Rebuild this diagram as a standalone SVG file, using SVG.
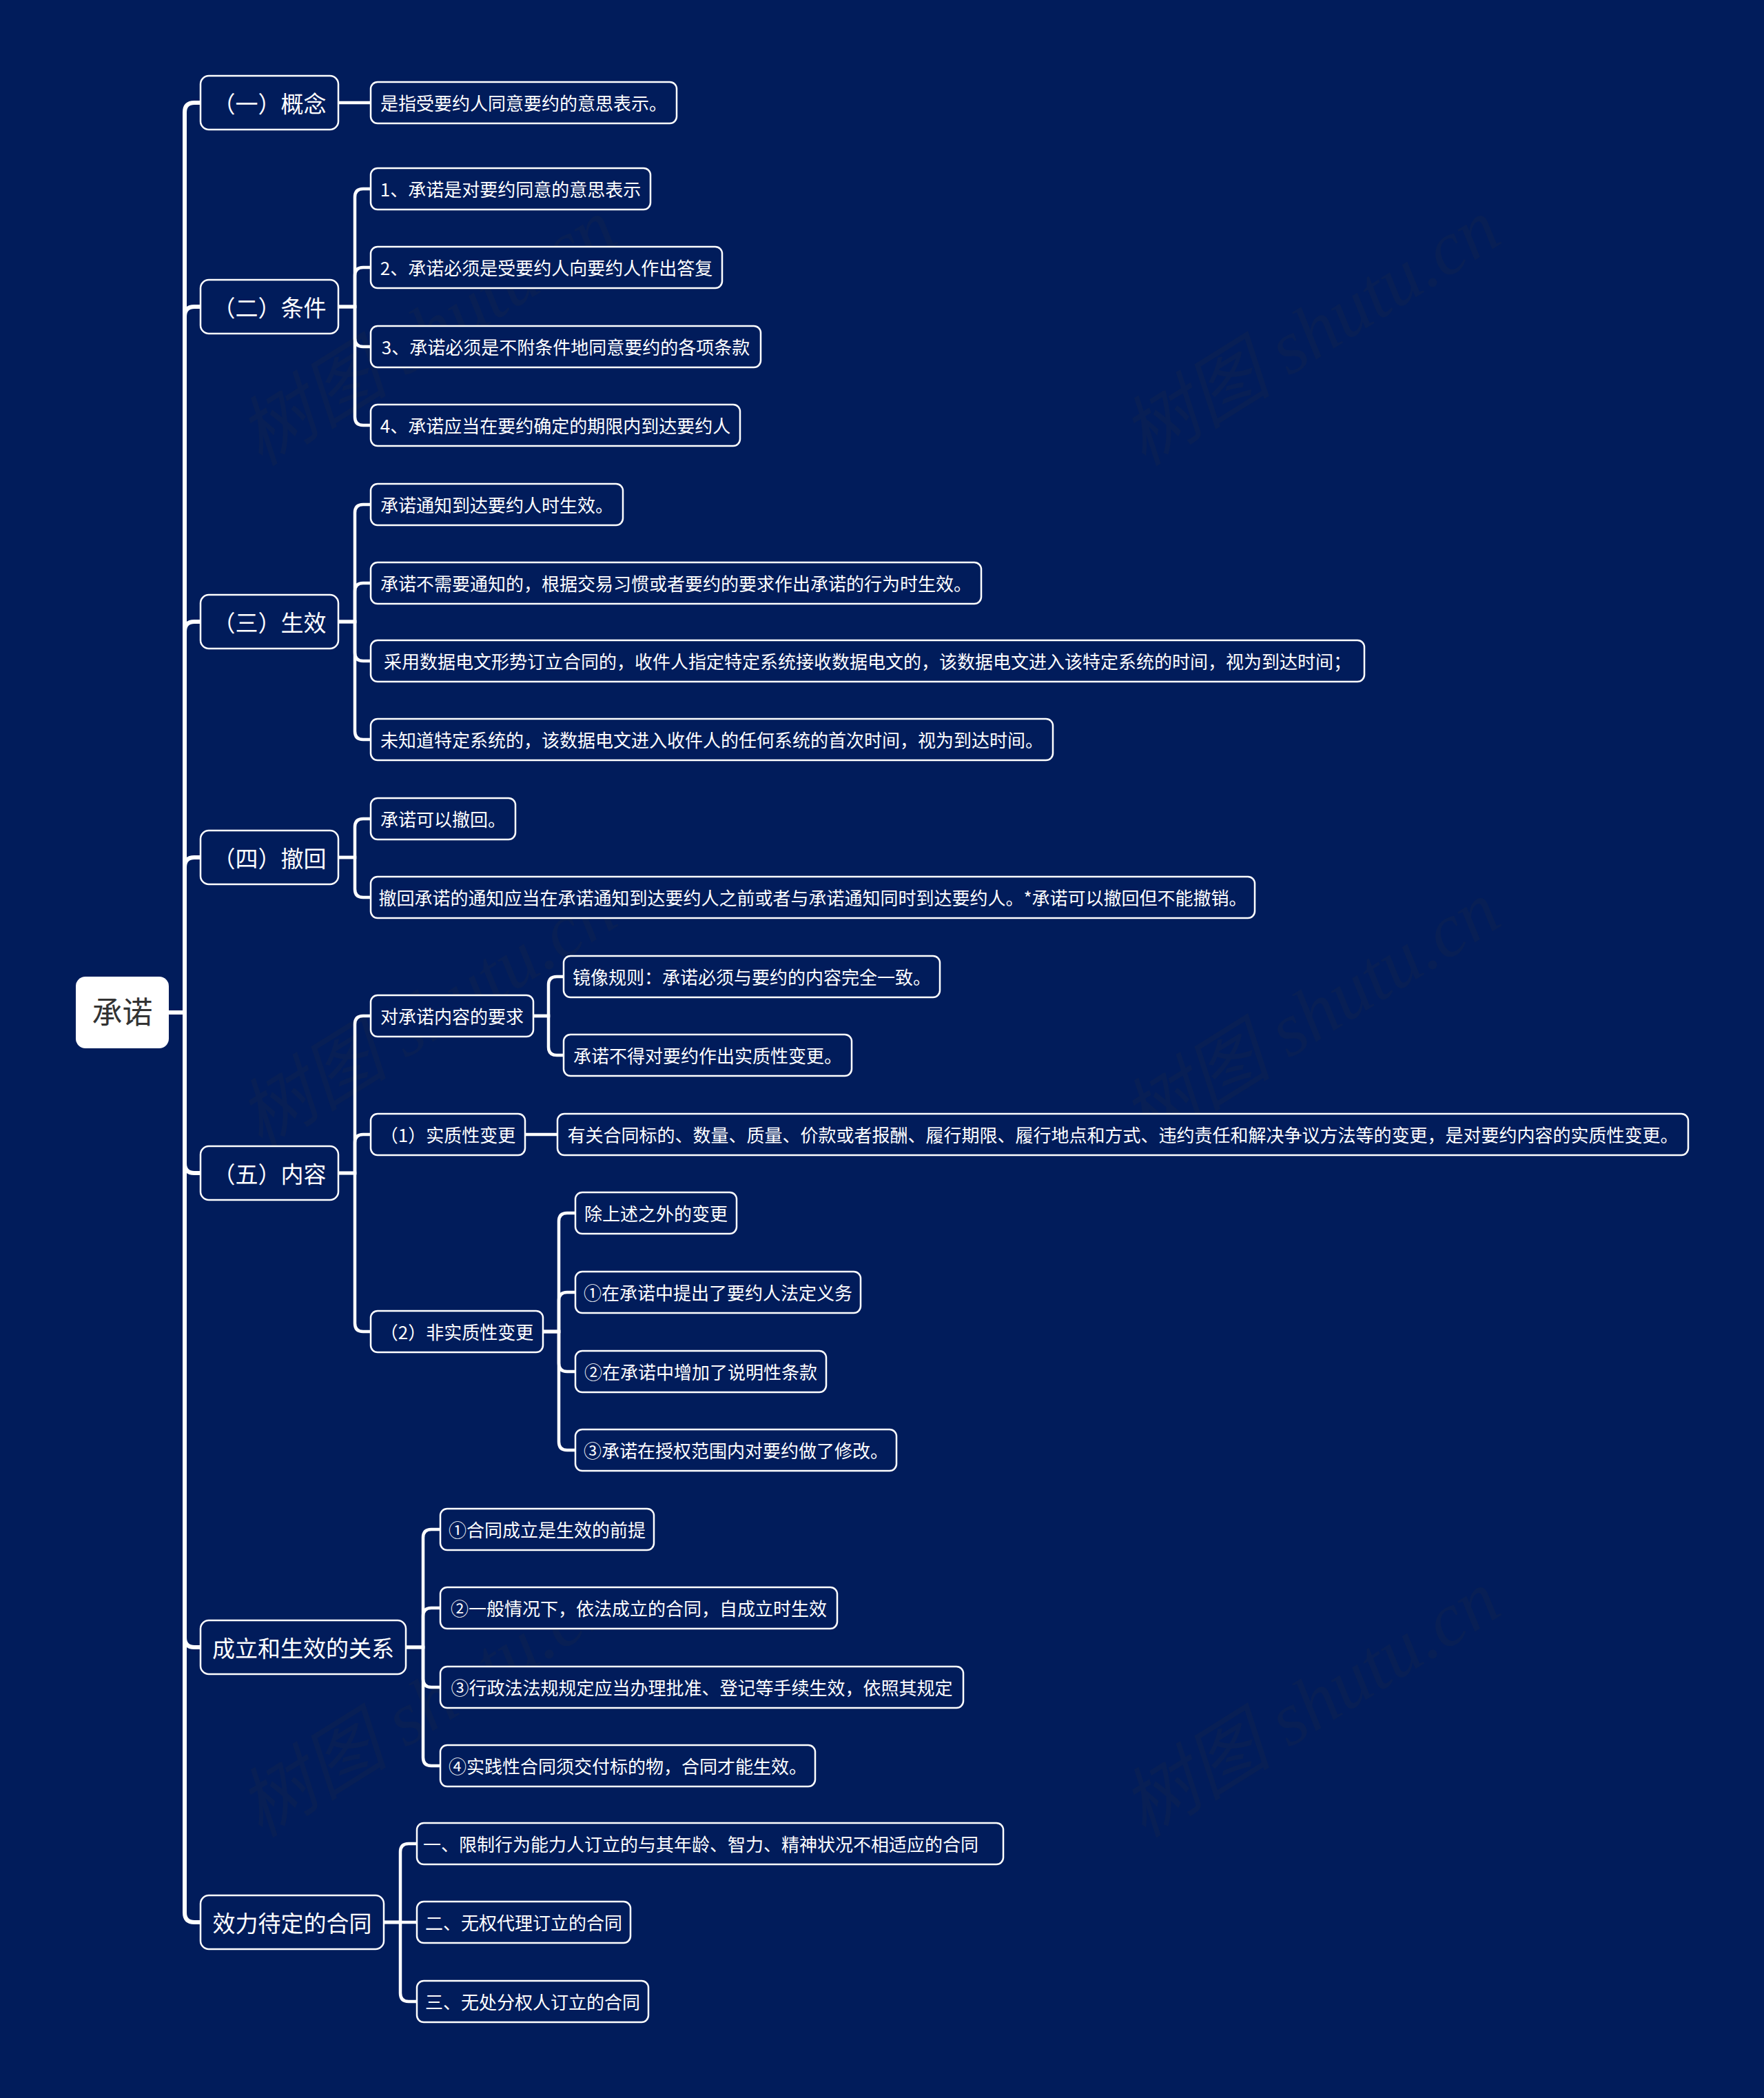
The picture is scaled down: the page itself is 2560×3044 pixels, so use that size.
<svg xmlns="http://www.w3.org/2000/svg" width="2560" height="3044" viewBox="0 0 2560 3044">
<style>
.bg{fill:#011c5b}
.n1 rect{fill:#011c5b;stroke:#ffffff;stroke-width:2.5}
.n2 rect{fill:#011c5b;stroke:#ffffff;stroke-width:2.5}
.n1 text{font-family:"Noto Sans CJK SC","Noto Sans",sans-serif;font-size:33px;fill:#ffffff;text-anchor:middle;transform:translate(0px,2px)}
.n2 text{font-family:"Noto Sans CJK SC","Noto Sans",sans-serif;font-size:26px;fill:#ffffff;text-anchor:middle;transform:translate(0px,2px)}
.root rect{fill:#ffffff}
.root text{font-family:"Noto Sans CJK SC","Noto Sans",sans-serif;font-size:44px;fill:#333333;text-anchor:middle}
.c0{fill:none;stroke:#ffffff;stroke-width:6}
.c1{fill:none;stroke:#ffffff;stroke-width:4.5}
.wm{font-family:"Liberation Serif","Noto Sans CJK SC",serif;font-size:110px;font-style:italic;fill:#333333;opacity:0.14}
</style>
<rect class="bg" x="0" y="0" width="2560" height="3044"/>
<g id="watermarks">
<text class="wm" transform="translate(640,514) rotate(-32)" text-anchor="middle">树图 shutu.cn</text>
<text class="wm" transform="translate(1922,514) rotate(-32)" text-anchor="middle">树图 shutu.cn</text>
<text class="wm" transform="translate(640,1504) rotate(-32)" text-anchor="middle">树图 shutu.cn</text>
<text class="wm" transform="translate(1922,1504) rotate(-32)" text-anchor="middle">树图 shutu.cn</text>
<text class="wm" transform="translate(640,2504) rotate(-32)" text-anchor="middle">树图 shutu.cn</text>
<text class="wm" transform="translate(1922,2504) rotate(-32)" text-anchor="middle">树图 shutu.cn</text>
</g>
<g id="connectors">
<path class="c0" d="M245 1469 H268 V163 Q268 149 282 149 H291"/>
<path class="c0" d="M245 1469 H268 V459 Q268 445 282 445 H291"/>
<path class="c0" d="M245 1469 H268 V916 Q268 902 282 902 H291"/>
<path class="c0" d="M245 1469 H268 V1258 Q268 1244 282 1244 H291"/>
<path class="c0" d="M245 1469 H268 V1688 Q268 1702 282 1702 H291"/>
<path class="c0" d="M245 1469 H268 V2376 Q268 2390 282 2390 H291"/>
<path class="c0" d="M245 1469 H268 V2775 Q268 2789 282 2789 H291"/>
<path class="c1" d="M491 149 H538"/>
<path class="c1" d="M491 445 H515 V286 Q515 274 527 274 H538"/>
<path class="c1" d="M491 445 H515 V400 Q515 388 527 388 H538"/>
<path class="c1" d="M491 445 H515 V491 Q515 503 527 503 H538"/>
<path class="c1" d="M491 445 H515 V605 Q515 617 527 617 H538"/>
<path class="c1" d="M491 902 H515 V744 Q515 732 527 732 H538"/>
<path class="c1" d="M491 902 H515 V858 Q515 846 527 846 H538"/>
<path class="c1" d="M491 902 H515 V947 Q515 959 527 959 H538"/>
<path class="c1" d="M491 902 H515 V1061 Q515 1073 527 1073 H538"/>
<path class="c1" d="M491 1244 H515 V1200 Q515 1188 527 1188 H538"/>
<path class="c1" d="M491 1244 H515 V1290 Q515 1302 527 1302 H538"/>
<path class="c1" d="M491 1702 H515 V1486 Q515 1474 527 1474 H538"/>
<path class="c1" d="M491 1702 H515 V1658 Q515 1646 527 1646 H538"/>
<path class="c1" d="M491 1702 H515 V1920 Q515 1932 527 1932 H538"/>
<path class="c1" d="M774 1474 H796 V1429 Q796 1417 808 1417 H818"/>
<path class="c1" d="M774 1474 H796 V1519 Q796 1531 808 1531 H818"/>
<path class="c1" d="M762 1646 H809"/>
<path class="c1" d="M788 1932 H811 V1772 Q811 1760 823 1760 H835"/>
<path class="c1" d="M788 1932 H811 V1887 Q811 1875 823 1875 H835"/>
<path class="c1" d="M788 1932 H811 V1978 Q811 1990 823 1990 H835"/>
<path class="c1" d="M788 1932 H811 V2092 Q811 2104 823 2104 H835"/>
<path class="c1" d="M589 2390 H614 V2231 Q614 2219 626 2219 H639"/>
<path class="c1" d="M589 2390 H614 V2345 Q614 2333 626 2333 H639"/>
<path class="c1" d="M589 2390 H614 V2436 Q614 2448 626 2448 H639"/>
<path class="c1" d="M589 2390 H614 V2550 Q614 2562 626 2562 H639"/>
<path class="c1" d="M557 2789 H581 V2687 Q581 2675 593 2675 H605"/>
<path class="c1" d="M557 2789 H605"/>
<path class="c1" d="M557 2789 H581 V2892 Q581 2904 593 2904 H605"/>
</g>
<g id="root" class="root"><rect x="110" y="1417" width="135" height="104" rx="14"/><text x="177.5" y="1485">承诺</text></g>
<g id="n-a" class="n1"><rect x="291" y="110" width="200" height="78" rx="12"/><text x="391" y="161">（一）概念</text></g>
<g id="n-b" class="n1"><rect x="291" y="406" width="200" height="78" rx="12"/><text x="391" y="457">（二）条件</text></g>
<g id="n-c" class="n1"><rect x="291" y="863" width="200" height="78" rx="12"/><text x="391" y="914">（三）生效</text></g>
<g id="n-d" class="n1"><rect x="291" y="1205" width="200" height="78" rx="12"/><text x="391" y="1256">（四）撤回</text></g>
<g id="n-e" class="n1"><rect x="291" y="1663" width="200" height="78" rx="12"/><text x="391" y="1714">（五）内容</text></g>
<g id="n-f" class="n1"><rect x="291" y="2351" width="298" height="78" rx="12"/><text x="440" y="2402">成立和生效的关系</text></g>
<g id="n-g" class="n1"><rect x="291" y="2750" width="266" height="78" rx="12"/><text x="424" y="2801">效力待定的合同</text></g>
<g id="n-a1" class="n2"><rect x="538" y="119" width="444" height="60" rx="10"/><text x="760" y="158">是指受要约人同意要约的意思表示。</text></g>
<g id="n-b1" class="n2"><rect x="538" y="244" width="406" height="60" rx="10"/><text x="741" y="283">1、承诺是对要约同意的意思表示</text></g>
<g id="n-b2" class="n2"><rect x="538" y="358" width="510" height="60" rx="10"/><text x="793" y="397">2、承诺必须是受要约人向要约人作出答复</text></g>
<g id="n-b3" class="n2"><rect x="538" y="473" width="566" height="60" rx="10"/><text x="821" y="512">3、承诺必须是不附条件地同意要约的各项条款</text></g>
<g id="n-b4" class="n2"><rect x="538" y="587" width="536" height="60" rx="10"/><text x="806" y="626">4、承诺应当在要约确定的期限内到达要约人</text></g>
<g id="n-c1" class="n2"><rect x="538" y="702" width="366" height="60" rx="10"/><text x="721" y="741">承诺通知到达要约人时生效。</text></g>
<g id="n-c2" class="n2"><rect x="538" y="816" width="886" height="60" rx="10"/><text x="981" y="855">承诺不需要通知的，根据交易习惯或者要约的要求作出承诺的行为时生效。</text></g>
<g id="n-c3" class="n2"><rect x="538" y="929" width="1442" height="60" rx="10"/><text x="1259" y="968">采用数据电文形势订立合同的，收件人指定特定系统接收数据电文的，该数据电文进入该特定系统的时间，视为到达时间；</text></g>
<g id="n-c4" class="n2"><rect x="538" y="1043" width="990" height="60" rx="10"/><text x="1033" y="1082">未知道特定系统的，该数据电文进入收件人的任何系统的首次时间，视为到达时间。</text></g>
<g id="n-d1" class="n2"><rect x="538" y="1158" width="210" height="60" rx="10"/><text x="643" y="1197">承诺可以撤回。</text></g>
<g id="n-d2" class="n2"><rect x="538" y="1272" width="1283" height="60" rx="10"/><text x="1179.5" y="1311">撤回承诺的通知应当在承诺通知到达要约人之前或者与承诺通知同时到达要约人。*承诺可以撤回但不能撤销。</text></g>
<g id="n-e1" class="n2"><rect x="538" y="1444" width="236" height="60" rx="10"/><text x="656" y="1483">对承诺内容的要求</text></g>
<g id="n-e1a" class="n2"><rect x="818" y="1387" width="546" height="60" rx="10"/><text x="1091" y="1426">镜像规则：承诺必须与要约的内容完全一致。</text></g>
<g id="n-e1b" class="n2"><rect x="818" y="1501" width="418" height="60" rx="10"/><text x="1027" y="1540">承诺不得对要约作出实质性变更。</text></g>
<g id="n-e2" class="n2"><rect x="538" y="1616" width="224" height="60" rx="10"/><text x="650" y="1655">（1）实质性变更</text></g>
<g id="n-e2a" class="n2"><rect x="809" y="1616" width="1641" height="60" rx="10"/><text x="1629.5" y="1655">有关合同标的、数量、质量、价款或者报酬、履行期限、履行地点和方式、违约责任和解决争议方法等的变更，是对要约内容的实质性变更。</text></g>
<g id="n-e3" class="n2"><rect x="538" y="1902" width="250" height="60" rx="10"/><text x="663" y="1941">（2）非实质性变更</text></g>
<g id="n-e3a" class="n2"><rect x="835" y="1730" width="234" height="60" rx="10"/><text x="952" y="1769">除上述之外的变更</text></g>
<g id="n-e3b" class="n2"><rect x="835" y="1845" width="414" height="60" rx="10"/><text x="1042" y="1884">①在承诺中提出了要约人法定义务</text></g>
<g id="n-e3c" class="n2"><rect x="835" y="1960" width="364" height="60" rx="10"/><text x="1017" y="1999">②在承诺中增加了说明性条款</text></g>
<g id="n-e3d" class="n2"><rect x="835" y="2074" width="466" height="60" rx="10"/><text x="1068" y="2113">③承诺在授权范围内对要约做了修改。</text></g>
<g id="n-f1" class="n2"><rect x="639" y="2189" width="310" height="60" rx="10"/><text x="794" y="2228">①合同成立是生效的前提</text></g>
<g id="n-f2" class="n2"><rect x="639" y="2303" width="576" height="60" rx="10"/><text x="927" y="2342">②一般情况下，依法成立的合同，自成立时生效</text></g>
<g id="n-f3" class="n2"><rect x="639" y="2418" width="759" height="60" rx="10"/><text x="1018.5" y="2457">③行政法法规规定应当办理批准、登记等手续生效，依照其规定</text></g>
<g id="n-f4" class="n2"><rect x="639" y="2532" width="544" height="60" rx="10"/><text x="911" y="2571">④实践性合同须交付标的物，合同才能生效。</text></g>
<g id="n-g1" class="n2"><rect x="605" y="2645" width="851" height="60" rx="10"/><text x="1017" y="2684">一、限制行为能力人订立的与其年龄、智力、精神状况不相适应的合同</text></g>
<g id="n-g2" class="n2"><rect x="605" y="2759" width="310" height="60" rx="10"/><text x="760" y="2798">二、无权代理订立的合同</text></g>
<g id="n-g3" class="n2"><rect x="605" y="2874" width="336" height="60" rx="10"/><text x="773" y="2913">三、无处分权人订立的合同</text></g>
</svg>
